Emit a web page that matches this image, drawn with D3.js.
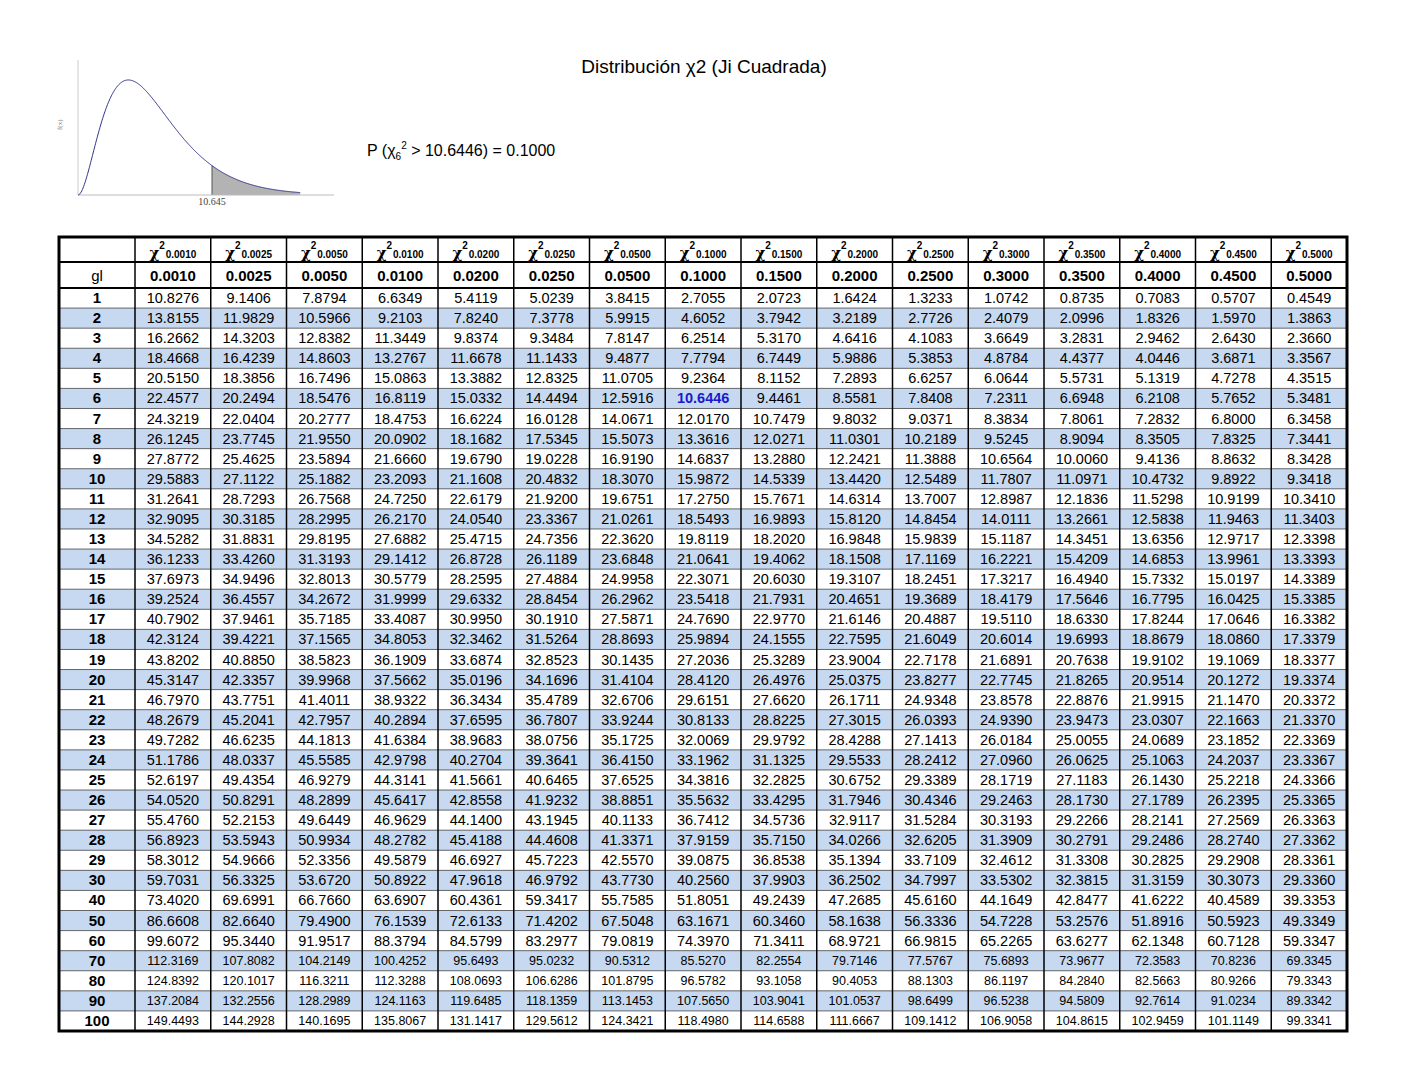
<!DOCTYPE html><html><head><meta charset="utf-8"><script src="https://cdn.jsdelivr.net/npm/d3@7"></script>
<style>body{margin:0;background:#fff}svg{font-family:"Liberation Sans",Arial,sans-serif}</style></head><body><svg id="c" width="1408" height="1088"></svg>
<script>
const probs=["0.0010","0.0025","0.0050","0.0100","0.0200","0.0250","0.0500","0.1000","0.1500","0.2000","0.2500","0.3000","0.3500","0.4000","0.4500","0.5000"];
const gl=[1,2,3,4,5,6,7,8,9,10,11,12,13,14,15,16,17,18,19,20,21,22,23,24,25,26,27,28,29,30,40,50,60,70,80,90,100];
const values=[
"10.8276 9.1406 7.8794 6.6349 5.4119 5.0239 3.8415 2.7055 2.0723 1.6424 1.3233 1.0742 0.8735 0.7083 0.5707 0.4549",
"13.8155 11.9829 10.5966 9.2103 7.8240 7.3778 5.9915 4.6052 3.7942 3.2189 2.7726 2.4079 2.0996 1.8326 1.5970 1.3863",
"16.2662 14.3203 12.8382 11.3449 9.8374 9.3484 7.8147 6.2514 5.3170 4.6416 4.1083 3.6649 3.2831 2.9462 2.6430 2.3660",
"18.4668 16.4239 14.8603 13.2767 11.6678 11.1433 9.4877 7.7794 6.7449 5.9886 5.3853 4.8784 4.4377 4.0446 3.6871 3.3567",
"20.5150 18.3856 16.7496 15.0863 13.3882 12.8325 11.0705 9.2364 8.1152 7.2893 6.6257 6.0644 5.5731 5.1319 4.7278 4.3515",
"22.4577 20.2494 18.5476 16.8119 15.0332 14.4494 12.5916 10.6446 9.4461 8.5581 7.8408 7.2311 6.6948 6.2108 5.7652 5.3481",
"24.3219 22.0404 20.2777 18.4753 16.6224 16.0128 14.0671 12.0170 10.7479 9.8032 9.0371 8.3834 7.8061 7.2832 6.8000 6.3458",
"26.1245 23.7745 21.9550 20.0902 18.1682 17.5345 15.5073 13.3616 12.0271 11.0301 10.2189 9.5245 8.9094 8.3505 7.8325 7.3441",
"27.8772 25.4625 23.5894 21.6660 19.6790 19.0228 16.9190 14.6837 13.2880 12.2421 11.3888 10.6564 10.0060 9.4136 8.8632 8.3428",
"29.5883 27.1122 25.1882 23.2093 21.1608 20.4832 18.3070 15.9872 14.5339 13.4420 12.5489 11.7807 11.0971 10.4732 9.8922 9.3418",
"31.2641 28.7293 26.7568 24.7250 22.6179 21.9200 19.6751 17.2750 15.7671 14.6314 13.7007 12.8987 12.1836 11.5298 10.9199 10.3410",
"32.9095 30.3185 28.2995 26.2170 24.0540 23.3367 21.0261 18.5493 16.9893 15.8120 14.8454 14.0111 13.2661 12.5838 11.9463 11.3403",
"34.5282 31.8831 29.8195 27.6882 25.4715 24.7356 22.3620 19.8119 18.2020 16.9848 15.9839 15.1187 14.3451 13.6356 12.9717 12.3398",
"36.1233 33.4260 31.3193 29.1412 26.8728 26.1189 23.6848 21.0641 19.4062 18.1508 17.1169 16.2221 15.4209 14.6853 13.9961 13.3393",
"37.6973 34.9496 32.8013 30.5779 28.2595 27.4884 24.9958 22.3071 20.6030 19.3107 18.2451 17.3217 16.4940 15.7332 15.0197 14.3389",
"39.2524 36.4557 34.2672 31.9999 29.6332 28.8454 26.2962 23.5418 21.7931 20.4651 19.3689 18.4179 17.5646 16.7795 16.0425 15.3385",
"40.7902 37.9461 35.7185 33.4087 30.9950 30.1910 27.5871 24.7690 22.9770 21.6146 20.4887 19.5110 18.6330 17.8244 17.0646 16.3382",
"42.3124 39.4221 37.1565 34.8053 32.3462 31.5264 28.8693 25.9894 24.1555 22.7595 21.6049 20.6014 19.6993 18.8679 18.0860 17.3379",
"43.8202 40.8850 38.5823 36.1909 33.6874 32.8523 30.1435 27.2036 25.3289 23.9004 22.7178 21.6891 20.7638 19.9102 19.1069 18.3377",
"45.3147 42.3357 39.9968 37.5662 35.0196 34.1696 31.4104 28.4120 26.4976 25.0375 23.8277 22.7745 21.8265 20.9514 20.1272 19.3374",
"46.7970 43.7751 41.4011 38.9322 36.3434 35.4789 32.6706 29.6151 27.6620 26.1711 24.9348 23.8578 22.8876 21.9915 21.1470 20.3372",
"48.2679 45.2041 42.7957 40.2894 37.6595 36.7807 33.9244 30.8133 28.8225 27.3015 26.0393 24.9390 23.9473 23.0307 22.1663 21.3370",
"49.7282 46.6235 44.1813 41.6384 38.9683 38.0756 35.1725 32.0069 29.9792 28.4288 27.1413 26.0184 25.0055 24.0689 23.1852 22.3369",
"51.1786 48.0337 45.5585 42.9798 40.2704 39.3641 36.4150 33.1962 31.1325 29.5533 28.2412 27.0960 26.0625 25.1063 24.2037 23.3367",
"52.6197 49.4354 46.9279 44.3141 41.5661 40.6465 37.6525 34.3816 32.2825 30.6752 29.3389 28.1719 27.1183 26.1430 25.2218 24.3366",
"54.0520 50.8291 48.2899 45.6417 42.8558 41.9232 38.8851 35.5632 33.4295 31.7946 30.4346 29.2463 28.1730 27.1789 26.2395 25.3365",
"55.4760 52.2153 49.6449 46.9629 44.1400 43.1945 40.1133 36.7412 34.5736 32.9117 31.5284 30.3193 29.2266 28.2141 27.2569 26.3363",
"56.8923 53.5943 50.9934 48.2782 45.4188 44.4608 41.3371 37.9159 35.7150 34.0266 32.6205 31.3909 30.2791 29.2486 28.2740 27.3362",
"58.3012 54.9666 52.3356 49.5879 46.6927 45.7223 42.5570 39.0875 36.8538 35.1394 33.7109 32.4612 31.3308 30.2825 29.2908 28.3361",
"59.7031 56.3325 53.6720 50.8922 47.9618 46.9792 43.7730 40.2560 37.9903 36.2502 34.7997 33.5302 32.3815 31.3159 30.3073 29.3360",
"73.4020 69.6991 66.7660 63.6907 60.4361 59.3417 55.7585 51.8051 49.2439 47.2685 45.6160 44.1649 42.8477 41.6222 40.4589 39.3353",
"86.6608 82.6640 79.4900 76.1539 72.6133 71.4202 67.5048 63.1671 60.3460 58.1638 56.3336 54.7228 53.2576 51.8916 50.5923 49.3349",
"99.6072 95.3440 91.9517 88.3794 84.5799 83.2977 79.0819 74.3970 71.3411 68.9721 66.9815 65.2265 63.6277 62.1348 60.7128 59.3347",
"112.3169 107.8082 104.2149 100.4252 95.6493 95.0232 90.5312 85.5270 82.2554 79.7146 77.5767 75.6893 73.9677 72.3583 70.8236 69.3345",
"124.8392 120.1017 116.3211 112.3288 108.0693 106.6286 101.8795 96.5782 93.1058 90.4053 88.1303 86.1197 84.2840 82.5663 80.9266 79.3343",
"137.2084 132.2556 128.2989 124.1163 119.6485 118.1359 113.1453 107.5650 103.9041 101.0537 98.6499 96.5238 94.5809 92.7614 91.0234 89.3342",
"149.4493 144.2928 140.1695 135.8067 131.1417 129.5612 124.3421 118.4980 114.6588 111.6667 109.1412 106.9058 104.8615 102.9459 101.1149 99.3341"
].map(s=>s.split(" "));
const df=6, crit=10.6446;

const svg=d3.select("#c");
svg.append("text").attr("x",704).attr("y",73).attr("text-anchor","middle").attr("font-size",19).text("Distribución χ2 (Ji Cuadrada)");
const pt=svg.append("text").attr("x",367).attr("y",156).attr("font-size",16);
pt.append("tspan").text("P (χ");
pt.append("tspan").attr("font-size",10).attr("dy",4).text(df);
pt.append("tspan").attr("font-size",10).attr("dy",-11).text("2");
pt.append("tspan").attr("dy",7).text(" > "+crit+") = 0.1000");

const xs=d3.scaleLinear().domain([0,crit]).range([78,212]);
const ys=d3.scaleLinear().domain([0,0.1353]).range([195,80]);
const pdf=x=>x*x*Math.exp(-x/2)/16;
const pts=d3.range(0,17.7,0.05).map(x=>[x,pdf(x)]);
const tail=pts.filter(p=>p[0]>=crit);
svg.append("path").attr("d",d3.area().x(d=>xs(d[0])).y0(ys(0)).y1(d=>ys(d[1]))([[crit,pdf(crit)],...tail])).attr("fill","#b3b3b3");
svg.append("line").attr("x1",xs(crit)).attr("x2",xs(crit)).attr("y1",ys(0)).attr("y2",ys(pdf(crit))).attr("stroke","#555");
svg.append("line").attr("x1",78).attr("x2",334).attr("y1",195).attr("y2",195).attr("stroke","#bbb");
svg.append("line").attr("x1",78).attr("x2",78).attr("y1",60).attr("y2",195).attr("stroke","#ccc");
svg.append("path").attr("d",d3.line().x(d=>xs(d[0])).y(d=>ys(d[1]))(pts)).attr("fill","none").attr("stroke","#33338a").attr("stroke-width",1);
svg.append("text").attr("x",xs(crit)).attr("y",205).attr("text-anchor","middle").attr("font-family","Liberation Serif").attr("font-size",10).attr("fill","#444").text("10.645");
svg.append("text").attr("x",62).attr("y",130).attr("font-family","Liberation Serif").attr("font-size",7).attr("fill","#777").attr("transform","rotate(-90,62,130)").text("f(x)");

const L=59,R=1347,c0=135,T0=237,B0=1031;
const xc=d3.scaleBand().domain(probs).range([c0,R]);
const yr=d3.scaleBand().domain(gl).range([288,B0]);
const g=svg.append("g");
gl.forEach((d,i)=>{ if(i%2==1) g.append("rect").attr("x",L).attr("y",yr(d)).attr("width",R-L).attr("height",yr.bandwidth()).attr("fill","#c6d9f1");});
gl.forEach(d=>g.append("line").attr("x1",L).attr("x2",R).attr("y1",yr(d)).attr("y2",yr(d)).attr("stroke","#444").attr("stroke-width",0.8));
[262,288].forEach(y=>g.append("line").attr("x1",L).attr("x2",R).attr("y1",y).attr("y2",y).attr("stroke","#000").attr("stroke-width",2));
probs.forEach(p=>g.append("line").attr("x1",xc(p)).attr("x2",xc(p)).attr("y1",T0).attr("y2",B0).attr("stroke","#000").attr("stroke-width",1.5));
g.append("rect").attr("x",L).attr("y",T0).attr("width",R-L).attr("height",B0-T0).attr("fill","none").attr("stroke","#000").attr("stroke-width",3);
probs.forEach(p=>{
 const cx=xc(p)+xc.bandwidth()/2;
 const t=g.append("text").attr("x",cx).attr("y",258).attr("text-anchor","middle").attr("font-weight","bold");
 t.append("tspan").attr("font-size",15).attr("font-family","DejaVu Serif").text("χ");
 t.append("tspan").attr("font-size",10).attr("dy",-9).text("2");
 t.append("tspan").attr("font-size",10).attr("dy",9).attr("dx",-2).text(" "+p);
 g.append("text").attr("x",cx).attr("y",281).attr("text-anchor","middle").attr("font-weight","bold").attr("font-size",15).text(p);
});
g.append("text").attr("x",97).attr("y",281).attr("text-anchor","middle").attr("font-size",15).text("gl");
gl.forEach((d,i)=>{
 const y=yr(d)+yr.bandwidth()/2+5;
 g.append("text").attr("x",97).attr("y",y).attr("text-anchor","middle").attr("font-weight","bold").attr("font-size",15).text(d);
 values[i].forEach((v,j)=>{
  const hl=(d===df&&probs[j]==="0.1000");
  g.append("text").attr("x",xc(probs[j])+xc.bandwidth()/2).attr("y",y-(d>=70?1:0)).attr("text-anchor","middle")
   .attr("font-size",d>=70?12.5:14.5).attr("font-weight",hl?"bold":"normal").attr("fill",hl?"#1a1acc":"#000").text(v);
 });
});
</script></body></html>
